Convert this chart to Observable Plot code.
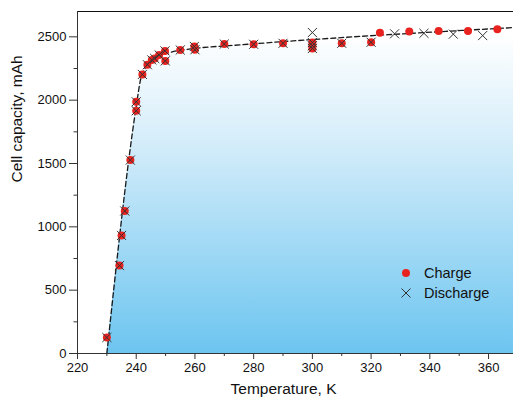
<!DOCTYPE html>
<html><head><meta charset="utf-8">
<script src="https://cdn.jsdelivr.net/npm/d3@7"></script>
<script src="https://cdn.jsdelivr.net/npm/@observablehq/plot@0.6"></script>
<style>
body{margin:0;background:#fff;}
#wrap{position:relative;width:513px;height:403px;font-family:"Liberation Sans",Arial,sans-serif;color:#111;}
.leg{position:absolute;left:400px;font-size:14.5px;line-height:14px;display:flex;align-items:center;}
.leg svg{margin-right:12px;}
</style></head><body><div id="wrap"></div>
<script>
const xDomain = [220, 368.5];
const yDomain = [0, 2700];
const xMajorTicks = [220, 240, 260, 280, 300, 320, 340, 360];
const xMinorTicks = [230, 250, 270, 290, 310, 330, 350];
const yMajorTicks = [0, 500, 1000, 1500, 2000, 2500];
const yMinorTicks = [250, 750, 1250, 1750, 2250];

const chargeT   = [230, 234.3, 235, 236.1, 238, 240, 240, 242.1, 243.8, 245.3, 246.3, 247.8, 249.8, 249.9, 255, 259.8, 260, 270, 280, 290, 300, 300, 300, 310, 320, 323, 333, 343, 353, 363];
const chargeCap = [126, 694, 932, 1125, 1527, 1916, 1987, 2203, 2280, 2318, 2329, 2357, 2389, 2310, 2396, 2424, 2398, 2443, 2441, 2449, 2455, 2430, 2408, 2449, 2457, 2532, 2543, 2547, 2547, 2560];

const dischargeT   = [230, 234.3, 235, 236.1, 238, 240, 240, 242.1, 243.8, 245.3, 246.3, 247.8, 249.8, 249.9, 255, 259.8, 260, 270, 280, 290, 300, 300, 300, 300, 310, 320, 328, 338, 348, 358];
const dischargeCap = [126, 694, 932, 1125, 1527, 1916, 1987, 2203, 2280, 2318, 2329, 2357, 2389, 2310, 2396, 2424, 2398, 2443, 2441, 2449, 2534, 2455, 2430, 2408, 2449, 2457, 2524, 2528, 2521, 2510];

const fitT   = [230, 240, 241.5, 243, 245, 248, 252, 258, 275.7, 368.5];
const fitCap = [0, 1950, 2165, 2250, 2305, 2350, 2380, 2403, 2437, 2573];

const charge = chargeT.map((t, i) => ({t, c: chargeCap[i]}));
const discharge = dischargeT.map((t, i) => ({t, c: dischargeCap[i]}));
const fit = fitT.map((t, i) => ({t, c: fitCap[i]}));

const plot = Plot.plot({
  width: 513, height: 403,
  marginLeft: 77, marginRight: 0, marginTop: 11, marginBottom: 50,
  style: {fontFamily: "Liberation Sans, Arial, sans-serif", fontSize: "13px", color: "#111", background: "#fff"},
  x: {domain: xDomain},
  y: {domain: yDomain},
  marks: [
    () => {
      const defs = d3.create("svg:defs");
      const g = defs.append("linearGradient").attr("id", "blueGrad").attr("x1", 0).attr("y1", 0).attr("x2", 0).attr("y2", 1);
      g.append("stop").attr("offset", "0.02").attr("stop-color", "#ffffff");
      g.append("stop").attr("offset", "0.35").attr("stop-color", "#d5edfa");
      g.append("stop").attr("offset", "1").attr("stop-color", "#6cc5f0");
      return defs.node();
    },
    Plot.areaY(fit, {x: "t", y: "c", fill: "url(#blueGrad)", curve: "monotone-x"}),
    Plot.line(fit, {x: "t", y: "c", stroke: "#1a1a1a", strokeWidth: 1.3, strokeDasharray: "5,3", curve: "monotone-x"}),
    Plot.dot(charge, {x: "t", y: "c", r: 4, fill: "#e8231f", stroke: "none"}),
    Plot.dot(discharge, {x: "t", y: "c", symbol: "times", r: 4.2, stroke: "#333", strokeWidth: 1}),
    Plot.ruleY([yDomain[1]], {stroke: "#111", strokeWidth: 1.2}),
    Plot.ruleY([yDomain[0]], {stroke: "#333", strokeWidth: 1}),
    Plot.ruleX([xDomain[0]], {stroke: "#333", strokeWidth: 1}),
    Plot.axisX({ticks: xMajorTicks, tickSize: 6, tickPadding: 3, tickFormat: d3.format("d"), label: null, stroke: "#333"}),
    Plot.axisX({ticks: xMinorTicks, tickSize: 3, tickFormat: () => "", label: null, stroke: "#333"}),
    Plot.axisY({ticks: yMajorTicks, tickSize: 8, tickPadding: 3, tickFormat: d3.format("d"), label: null, stroke: "#333"}),
    Plot.axisY({ticks: yMinorTicks, tickSize: 3.5, tickFormat: () => "", label: null, stroke: "#333"}),
    Plot.text(["Temperature, K"], {frameAnchor: "bottom", dx: -12, dy: 40, fontSize: 15.5, fill: "#111"}),
    Plot.text(["Cell capacity, mAh"], {frameAnchor: "left", rotate: -90, dx: -60, fontSize: 15.5, fill: "#111"})
  ]
});
const wrap = document.getElementById("wrap");
wrap.appendChild(plot);

const legend = [
  {label: "Charge", top: 266, sym: '<circle cx="6" cy="7" r="4" fill="#e8231f"/>'},
  {label: "Discharge", top: 286, sym: '<path d="M1.5,2.5L10.5,11.5M10.5,2.5L1.5,11.5" stroke="#333" stroke-width="1"/>'}
];
for (const l of legend) {
  const d = document.createElement("div");
  d.className = "leg";
  d.style.top = l.top + "px";
  d.innerHTML = '<svg width="12" height="14">' + l.sym + '</svg>' + l.label;
  wrap.appendChild(d);
}
</script></body></html>
